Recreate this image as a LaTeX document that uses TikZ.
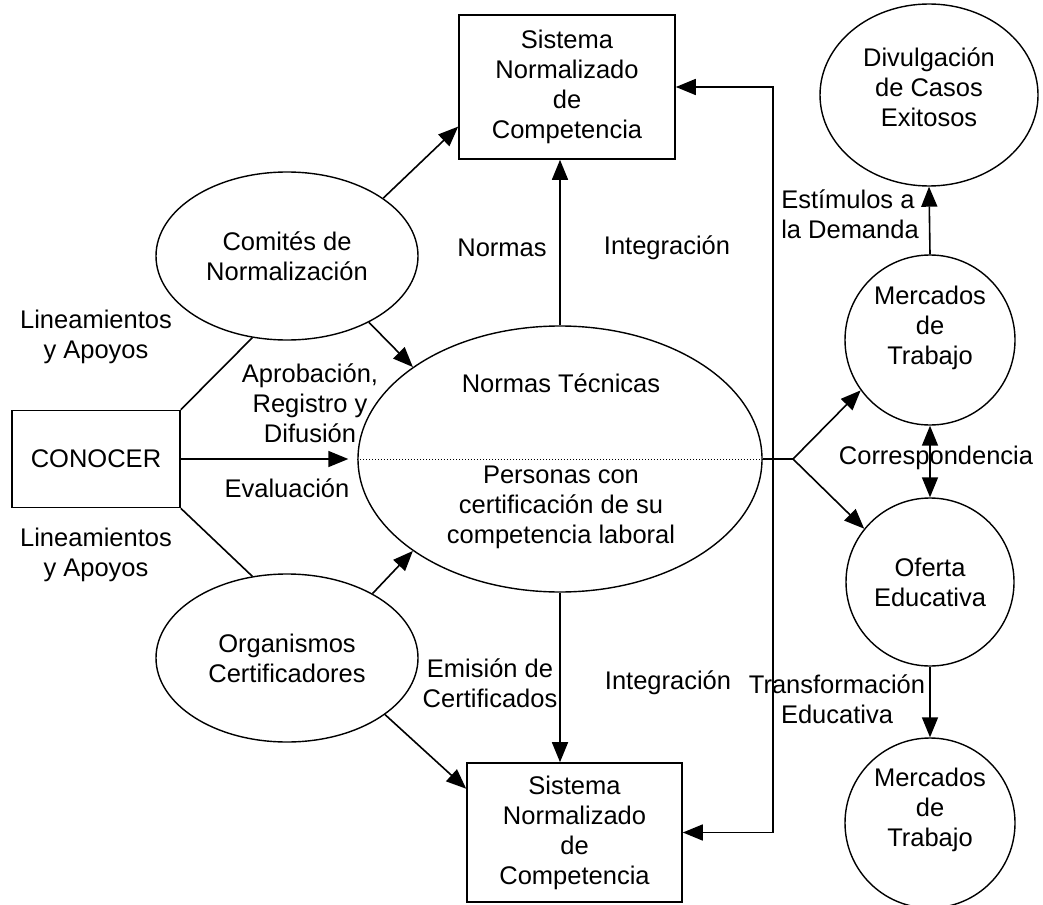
\documentclass[tikz,border=0pt]{standalone}
\usepackage{fontspec}
\setmainfont{Liberation Sans}
\usetikzlibrary{arrows.meta, shapes.geometric}

\begin{document}
\begin{tikzpicture}[x=1pt, y=-1pt, line width=1.6pt,
  every node/.style={font=\fontsize{25.5}{30}\selectfont, align=center, inner sep=0pt},
  box/.style={draw, rectangle, minimum width=216pt, minimum height=144pt},
  oval/.style={draw, ellipse, line width=1.4pt},
  arr/.style={-{Triangle[length=20pt, width=16pt]}},
  dbl/.style={{Triangle[length=20pt, width=16pt]}-{Triangle[length=20pt, width=16pt]}}]
\useasboundingbox (0,0) rectangle (1043,904);

% boxes
\node[box] (sn1) at (567,87) {Sistema\\Normalizado\\de\\Competencia};
\node[box, minimum width=215pt, minimum height=139pt] (sn2) at (574.5,832.5) {Sistema\\Normalizado\\de\\Competencia};
\node[draw, rectangle, minimum width=168pt, minimum height=97pt] (con) at (96,459) {CONOCER};

% left ovals
\node[oval, minimum width=262pt, minimum height=168pt] (com) at (287,256) {Comités de\\Normalización};
\node[oval, minimum width=262pt, minimum height=168pt] (org) at (287,658) {Organismos\\Certificadores};

% central oval
\node[oval, minimum width=404pt, minimum height=266pt] (cen) at (560,459) {};
\node (cent1) at (561,383) {Normas Técnicas};
\node (cent2) at (561,507) {Personas con\\certificación de su\\competencia laboral};
\draw[dotted, line width=1pt] (cen.west) -- (cen.east);

% right circles
\node[oval, minimum width=218pt, minimum height=182pt] (div) at (929,95) {};
\node (divt) at (929,87) {Divulgación\\de Casos\\Exitosos};
\node[oval, minimum size=170pt] (mer1) at (930,340) {};
\node (mer1t) at (930,328) {Mercados\\de\\Trabajo};
\node[oval, minimum size=168pt] (ofe) at (930,582) {Oferta\\Educativa};
\node[oval, minimum size=170pt] (mer2) at (930,823) {};
\node (mer2t) at (930,810) {Mercados\\de\\Trabajo};

% connectors
\draw[arr] (com.31) -- (sn1.200);
\draw[arr] (com.-39) -- (cen.148);
\draw (con.north east) -- (com.247);
\draw (con.south east) -- (org.113);
\draw[arr, shorten >=9pt] (con) -- (cen);
\draw[arr] (org.37) -- (cen.212);
\draw[arr] (org.-30) -- (sn2.158);
\draw[arr] (cen.north) -- (cen.north |- sn1.south);
\draw[arr] (cen.south) -- (cen.south |- sn2.north);

\coordinate (fb) at (773,459);
\draw[dbl] (sn1.east) -| (fb) |- (sn2.east);

\coordinate (br) at (793,459);
\draw (cen.east) -- (br);
\draw[arr] (br) -- (mer1.216);
\draw[arr] (br) -- (ofe.141);
\draw[arr] (mer1.north) -- (div.south);
\draw[dbl] (mer1.south) -- (ofe.north);
\draw[arr] (ofe.south) -- (mer2.north);

% labels
\node (lin1) at (96,337) {Lineamientos\\y Apoyos};
\node (lin2) at (96,555) {Lineamientos\\y Apoyos};
\node (apr) at (310,403) {Aprobación,\\Registro y\\Difusión};
\node (eva) at (287,488) {Evaluación};
\node (nor) at (502,248) {Normas};
\node (int1) at (667,248) {Integración};
\node[align=left] (est) at (850,214) {Estímulos a\\la Demanda};
\node (cor) at (936,458) {Correspondencia};
\node (emi) at (490,683) {Emisión de\\Certificados};
\node (int2) at (668,683) {Integración};
\node (tra) at (837,699) {Transformación\\Educativa};

\end{tikzpicture}
\end{document}
